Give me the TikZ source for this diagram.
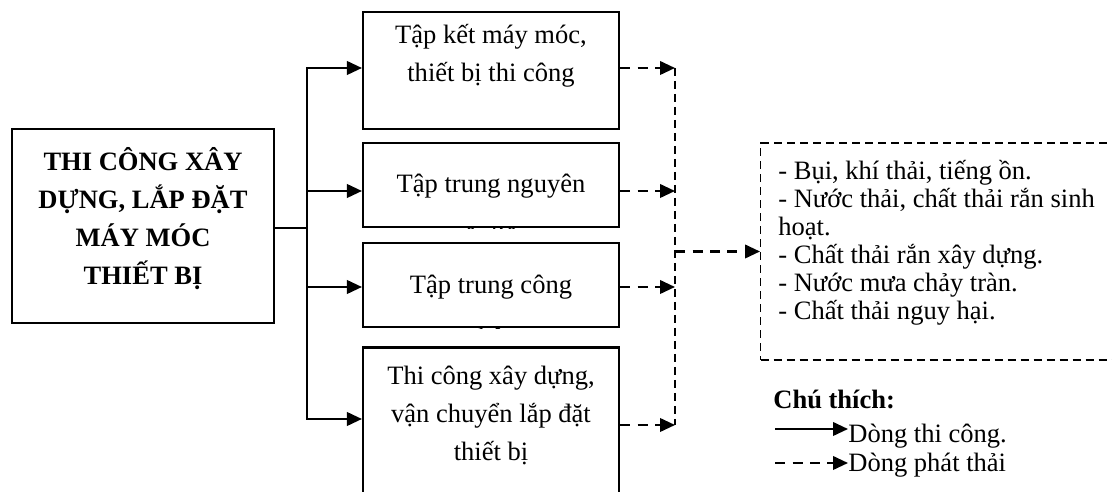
\documentclass[tikz,border=0pt]{standalone}
\usepackage{fontspec}
\setmainfont{Liberation Serif}
\usepackage{tikz}
\usetikzlibrary{arrows.meta}
\usetikzlibrary{positioning,calc}
\newcommand{\bodyfont}{\fontsize{15.1}{21.8}\selectfont}

\begin{document}
\begin{tikzpicture}[x=0.02cm,y=-0.02cm,font=\bodyfont,
    stagebox/.style={draw,line width=1.2pt,minimum width=5.12cm,inner sep=0pt},
    flow/.style={line width=1.3pt,-{Triangle[length=0.3cm,width=0.27cm]}},
    emit/.style={line width=1.3pt,dash pattern=on 0.2cm off 0.15cm,-{Triangle[length=0.3cm,width=0.27cm]}},
    thindash/.style={line width=0.7pt,dash pattern=on 0.16cm off 0.1cm}]
    \clip (0,0) rectangle (1112,492);
    \node[draw,line width=1.2pt,minimum width=5.24cm,minimum height=3.88cm,align=center,
          text depth=0.4cm,font=\bodyfont\bfseries] (main) at (143,226)
      {THI CÔNG XÂY\\DỰNG, LẮP ĐẶT\\MÁY MÓC\\THIẾT BỊ};
    \foreach \i/\cy/\h in {1/70.5/2.34, 2/185/1.68, 3/285/1.68, 4/422/2.98}{
      \node[stagebox,minimum height=\h cm] (b\i) at (491,\cy) {};
    }
    \foreach \i/\dy/\txt in {
      1/13/{Tập kết máy móc,\\thiết bị thi công},
      2/32/{Tập trung nguyên\\[8pt]vật liệu},
      3/33/{Tập trung công\\[8pt]nhân},
      4/19/{Thi công xây dựng,\\vận chuyển lắp đặt\\thiết bị}}{
      \begin{scope}
        \clip (b\i.south west) rectangle (b\i.north east);
        \node[align=center,anchor=north,inner sep=0pt] (t\i) at ([yshift=-\dy*0.02cm]b\i.north) {\txt};
      \end{scope}
    }
    \coordinate (jn) at (307,228);
    \draw[line width=1.3pt] (main.east |- jn) -- (jn);
    \foreach \i/\s in {1/2.5, 2/-6, 3/-2, 4/3}{
      \draw[flow] (jn) |- ([yshift=\s*0.02cm]b\i.west);
    }
    \coordinate (bt) at (675,68);
    \coordinate (bb) at (675,425);
    \draw[thindash] (bt) -- (bb);
    \foreach \i/\s in {1/2.5, 2/-6, 3/-2, 4/-3}{
      \draw[emit] ([yshift=\s*0.02cm]b\i.east) coordinate (e\i) -- (e\i -| bt);
    }
    \node[draw,thindash,minimum width=7.4cm,minimum height=4.34cm,anchor=west] (eff) at (760,251.5) {};
    \node[anchor=north west,align=left,inner sep=0pt,font=\fontsize{15.1}{15.9}\selectfont] (efftxt)
      at ([xshift=0.36cm,yshift=-0.36cm]eff.north west)
      {- Bụi, khí thải, tiếng ồn.\\- Nước thải, chất thải rắn sinh\\hoạt.\\- Chất thải rắn xây dựng.\\- Nước mưa chảy tràn.\\- Chất thải nguy hại.};
    \draw[emit] (eff.west -| bt) -- (eff.west);
    \node[anchor=base west,inner sep=0pt,font=\bodyfont\bfseries] (note) at (773,409) {Chú thích:};
    \node[anchor=base west,inner sep=0pt] (lg1) at (848,443) {Dòng thi công.};
    \node[anchor=base west,inner sep=0pt] (lg2) at (848,472) {Dòng phát thải};
    \coordinate (l1) at (775,429);
    \coordinate (l2) at (775,463);
    \draw[flow] (l1) -- (l1 -| lg1.west);
    \draw[emit] (l2) -- (l2 -| lg2.west);
\end{tikzpicture}
\end{document}
